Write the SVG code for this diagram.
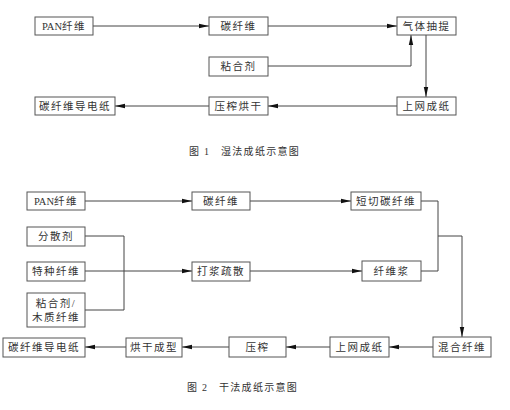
<svg xmlns="http://www.w3.org/2000/svg" width="510" height="410" viewBox="0 0 510 410">
<style>
.box{fill:#fff;stroke:#555;stroke-width:1}
.t{font-family:"Liberation Serif","Noto Sans CJK SC",serif;font-size:10.5px;fill:#333;text-anchor:middle;letter-spacing:1.5px}
.lat{letter-spacing:0}
.cap{font-family:"Liberation Serif","Noto Sans CJK SC",serif;font-size:10px;fill:#333;letter-spacing:1.3px}
.ln{fill:none;stroke:#444;stroke-width:1}
.ar{marker-end:url(#ah)}
</style>
<defs>
<marker id="ah" markerUnits="userSpaceOnUse" markerWidth="11" markerHeight="6" refX="10" refY="3" orient="auto">
<path d="M0,0.8 L10,3 L0,5.2 Z" fill="#111"/>
</marker>
</defs>
<rect width="510" height="410" fill="#fff"/>
<g id="connectors">
<line class="ln ar" x1="93" y1="26" x2="209" y2="26"/>
<line class="ln ar" x1="268" y1="26" x2="397" y2="26"/>
<polyline class="ln ar" points="268,66 411,66 411,35"/>
<line class="ln ar" x1="426" y1="35" x2="426" y2="97"/>
<line class="ln ar" x1="397" y1="106" x2="268" y2="106"/>
<line class="ln ar" x1="209" y1="106" x2="115" y2="106"/>
<line class="ln ar" x1="85" y1="201" x2="192" y2="201"/>
<line class="ln ar" x1="250" y1="201" x2="351" y2="201"/>
<polyline class="ln" points="85,236 124,236 124,310 85,310"/>
<line class="ln ar" x1="85" y1="271" x2="192" y2="271"/>
<line class="ln ar" x1="250" y1="271" x2="362" y2="271"/>
<polyline class="ln" points="421,201 438,201 438,271 421,271"/>
<polyline class="ln ar" points="438,236 462,236 462,337"/>
<line class="ln ar" x1="433" y1="347" x2="389" y2="347"/>
<line class="ln ar" x1="330" y1="347" x2="286" y2="347"/>
<line class="ln ar" x1="229" y1="347" x2="182" y2="347"/>
<line class="ln ar" x1="126" y1="347" x2="85" y2="347"/>
</g>
<g id="n_pan1"><rect class="box" x="35" y="17" width="58" height="18"/><text class="t" x="64" y="30"><tspan class="lat">PAN</tspan>纤维</text></g>
<g id="n_cf1"><rect class="box" x="209" y="17" width="59" height="18"/><text class="t" x="238.5" y="30">碳纤维</text></g>
<g id="n_gas"><rect class="box" x="397" y="17" width="59" height="18"/><text class="t" x="426.5" y="30">气体抽提</text></g>
<g id="n_binder1"><rect class="box" x="209" y="57" width="59" height="19"/><text class="t" x="238.5" y="70">粘合剂</text></g>
<g id="n_web1"><rect class="box" x="397" y="97" width="59" height="18"/><text class="t" x="426.5" y="110">上网成纸</text></g>
<g id="n_press1"><rect class="box" x="209" y="97" width="59" height="18"/><text class="t" x="238.5" y="110">压榨烘干</text></g>
<g id="n_paper1"><rect class="box" x="35" y="97" width="80" height="18"/><text class="t" x="75" y="110">碳纤维导电纸</text></g>
<text class="cap" x="189" y="155">图 1<tspan x="221">湿法成纸示意图</tspan></text>
<g id="n_pan2"><rect class="box" x="27" y="192" width="58" height="18"/><text class="t" x="56" y="205"><tspan class="lat">PAN</tspan>纤维</text></g>
<g id="n_cf2"><rect class="box" x="192" y="192" width="58" height="18"/><text class="t" x="221" y="205">碳纤维</text></g>
<g id="n_chop"><rect class="box" x="351" y="192" width="70" height="18"/><text class="t" x="386" y="205">短切碳纤维</text></g>
<g id="n_disp"><rect class="box" x="27" y="227" width="58" height="19"/><text class="t" x="56" y="240">分散剂</text></g>
<g id="n_special"><rect class="box" x="27" y="262" width="58" height="19"/><text class="t" x="56" y="275">特种纤维</text></g>
<g id="n_binder2"><rect class="box" x="27" y="293" width="58" height="34"/><text class="t" x="56" y="307">粘合剂/</text><text class="t" x="56" y="321">木质纤维</text></g>
<g id="n_beat"><rect class="box" x="192" y="262" width="58" height="19"/><text class="t" x="221" y="275">打浆疏散</text></g>
<g id="n_pulp"><rect class="box" x="362" y="261" width="59" height="20"/><text class="t" x="391.5" y="275">纤维浆</text></g>
<g id="n_mix"><rect class="box" x="433" y="337" width="58" height="20"/><text class="t" x="462" y="351">混合纤维</text></g>
<g id="n_web2"><rect class="box" x="330" y="337" width="59" height="20"/><text class="t" x="359.5" y="351">上网成纸</text></g>
<g id="n_press2"><rect class="box" x="229" y="337" width="57" height="20"/><text class="t" x="257.5" y="351">压榨</text></g>
<g id="n_dry"><rect class="box" x="126" y="338" width="56" height="19"/><text class="t" x="154" y="351">烘干成型</text></g>
<g id="n_paper2"><rect class="box" x="3" y="338" width="82" height="19"/><text class="t" x="44" y="351">碳纤维导电纸</text></g>
<text class="cap" x="187" y="391">图 2<tspan x="219">干法成纸示意图</tspan></text>
</svg>
